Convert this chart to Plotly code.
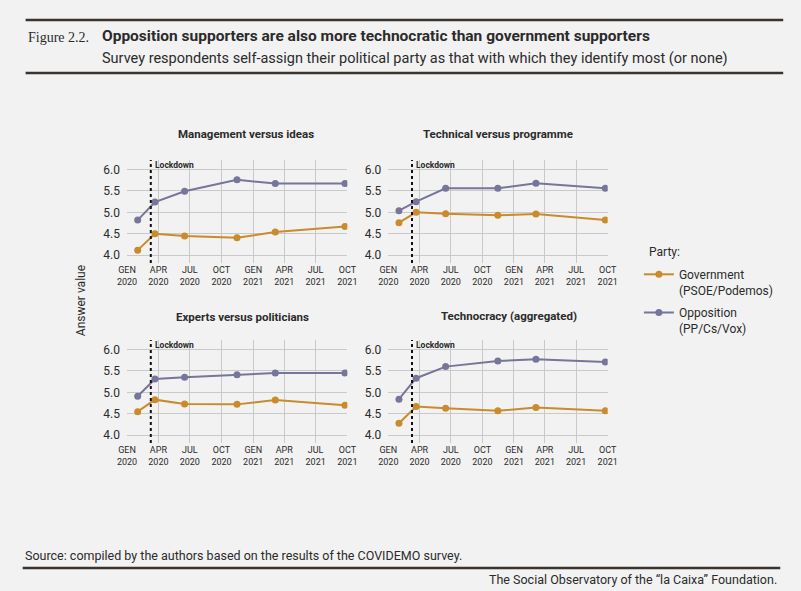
import plotly.graph_objects as go

# Survey waves (COVIDEMO)
wave_dates = ["2020-02-01", "2020-03-22", "2020-06-16", "2020-11-15", "2021-03-06", "2021-09-24"]
lockdown_date = "2020-03-10"

panel_titles = ["Management versus ideas", "Technical versus programme",
                "Experts versus politicians", "Technocracy (aggregated)"]

mgmt_gov = [4.12, 4.50, 4.45, 4.41, 4.54, 4.67]
mgmt_opp = [4.82, 5.24, 5.49, 5.76, 5.67, 5.67]
tech_gov = [4.76, 5.00, 4.97, 4.93, 4.96, 4.82]
tech_opp = [5.04, 5.25, 5.56, 5.56, 5.68, 5.56]
expt_gov = [4.55, 4.83, 4.73, 4.72, 4.82, 4.70]
expt_opp = [4.91, 5.31, 5.35, 5.41, 5.45, 5.45]
tcy_gov = [4.28, 4.67, 4.63, 4.57, 4.65, 4.57]
tcy_opp = [4.84, 5.33, 5.60, 5.73, 5.77, 5.71]

gov_series = [mgmt_gov, tech_gov, expt_gov, tcy_gov]
opp_series = [mgmt_opp, tech_opp, expt_opp, tcy_opp]

tick_dates = ["2020-01-01", "2020-04-01", "2020-07-01", "2020-10-01",
              "2021-01-01", "2021-04-01", "2021-07-01", "2021-10-01"]
tick_labels = ["GEN<br>2020", "APR<br>2020", "JUL<br>2020", "OCT<br>2020",
               "GEN<br>2021", "APR<br>2021", "JUL<br>2021", "OCT<br>2021"]

gov_name = "Government<br>(PSOE/Podemos)"
opp_name = "Opposition<br>(PP/Cs/Vox)"
gov_color = "#C98B2B"
opp_color = "#76759A"

W, H = 801, 591
FONT = "Roboto"
TXT = "#2b2b2b"


def px(x):
    return x / W


def py(y):
    return 1 - y / H


# pixel boxes of the four panels (left, right, top, bottom)
boxes = [(120, 346, 160, 263), (388, 613, 160, 263),
         (120, 346, 340, 443), (388, 613, 340, 443)]
title_pos = [(242, 134), (500, 134), (238, 317), (512, 316)]

fig = go.Figure()
layout = {}
shapes = []
annotations = []

for i in range(4):
    n = "" if i == 0 else str(i + 1)
    xa, ya = "x" + n, "y" + n
    for vals, name, color in [(gov_series[i], gov_name, gov_color),
                              (opp_series[i], opp_name, opp_color)]:
        fig.add_trace(go.Scatter(
            x=wave_dates, y=vals, name=name, xaxis=xa, yaxis=ya,
            mode="lines+markers", line=dict(color=color, width=2),
            marker=dict(color=color, size=7),
            showlegend=(i == 0), legendgroup=name))
    l, r, t, b = boxes[i]
    layout["xaxis" + n] = dict(
        domain=[px(l), px(r)], anchor=ya, type="date",
        range=["2020-01-01", "2021-10-01"],
        tickvals=tick_dates, ticktext=tick_labels,
        showgrid=True, gridcolor="#c9c9c9", gridwidth=1,
        zeroline=False, showline=False, ticks="",
        tickfont=dict(family=FONT, size=9, color=TXT))
    layout["yaxis" + n] = dict(
        domain=[py(b), py(t)], anchor=xa,
        range=[3.82, 6.22], tickvals=[4.0, 4.5, 5.0, 5.5, 6.0],
        tickformat=".1f", showgrid=True, gridcolor="#c9c9c9", gridwidth=1,
        zeroline=False, showline=False, ticks="", ticklabelstandoff=6,
        tickfont=dict(family=FONT, size=12, color=TXT))
    # lockdown marker
    shapes.append(dict(type="line", xref=xa, yref=ya + " domain",
                       x0=lockdown_date, x1=lockdown_date, y0=0, y1=1,
                       line=dict(color="#111111", width=2, dash="dot")))
    annotations.append(dict(xref=xa, yref=ya + " domain", x=lockdown_date, y=1,
                            xanchor="left", yanchor="top", xshift=2, yshift=2,
                            text="<b>Lockdown</b>", showarrow=False,
                            font=dict(family=FONT, size=8.5, color=TXT)))
    tx, ty = title_pos[i]
    annotations.append(dict(xref="paper", yref="paper", x=px(tx), y=py(ty),
                            xanchor="center", yanchor="middle",
                            text="<b>" + panel_titles[i] + "</b>", showarrow=False,
                            font=dict(family=FONT, size=11.5, color=TXT)))

# header, axis title, legend heading and footer
annotations += [
    dict(xref="paper", yref="paper", x=px(16), y=py(37), xanchor="left", yanchor="middle",
         text="Figure 2.2.", showarrow=False,
         font=dict(family="Liberation Serif", size=14, color=TXT)),
    dict(xref="paper", yref="paper", x=px(92), y=py(36), xanchor="left", yanchor="middle",
         text="<b>Opposition supporters are also more technocratic than government supporters</b>",
         showarrow=False, font=dict(family=FONT, size=15.5, color=TXT)),
    dict(xref="paper", yref="paper", x=px(92), y=py(58), xanchor="left", yanchor="middle",
         text="Survey respondents self-assign their political party as that with which they identify most (or none)",
         showarrow=False, font=dict(family=FONT, size=14.5, color=TXT)),
    dict(xref="paper", yref="paper", x=px(73), y=py(301), xanchor="center", yanchor="middle",
         text="Answer value", textangle=-90, showarrow=False,
         font=dict(family=FONT, size=12, color=TXT)),
    dict(xref="paper", yref="paper", x=px(653), y=py(252), xanchor="left", yanchor="middle",
         text="Party:", showarrow=False, font=dict(family=FONT, size=12, color=TXT)),
    dict(xref="paper", yref="paper", x=px(13), y=py(555), xanchor="left", yanchor="middle",
         text="Source: compiled by the authors based on the results of the COVIDEMO survey.",
         showarrow=False, font=dict(family=FONT, size=12.5, color=TXT)),
    dict(xref="paper", yref="paper", x=px(789), y=py(579), xanchor="right", yanchor="middle",
         text="The Social Observatory of the \u201cla Caixa\u201d Foundation.",
         showarrow=False, font=dict(family=FONT, size=12.5, color=TXT)),
]

for y in [20, 73]:
    shapes.append(dict(type="line", xref="paper", yref="paper",
                       x0=px(16), x1=px(793), y0=py(y), y1=py(y),
                       line=dict(color="#3a3431", width=2.5)))
shapes.append(dict(type="line", xref="paper", yref="paper",
                   x0=px(13), x1=px(790), y0=py(568), y1=py(568),
                   line=dict(color="#3a3431", width=2.5)))

fig.update_layout(
    width=W, height=H,
    margin=dict(l=0, r=0, t=0, b=0),
    paper_bgcolor="#f2f2f2", plot_bgcolor="#f2f2f2",
    font=dict(family=FONT, color=TXT),
    shapes=shapes, annotations=annotations,
    legend=dict(x=px(645), y=py(260), xanchor="left", yanchor="top",
                font=dict(family=FONT, size=12, color=TXT),
                bgcolor="rgba(0,0,0,0)", tracegroupgap=4, valign="top",
                itemwidth=30),
    **layout,
)

# drop the browser's default page margin and scrollbars so the figure sits at (0, 0)
fig.write_html("out.html", config={"displayModeBar": False},
               post_script="document.body.style.margin='0';"
                           "document.body.style.overflow='hidden';")
